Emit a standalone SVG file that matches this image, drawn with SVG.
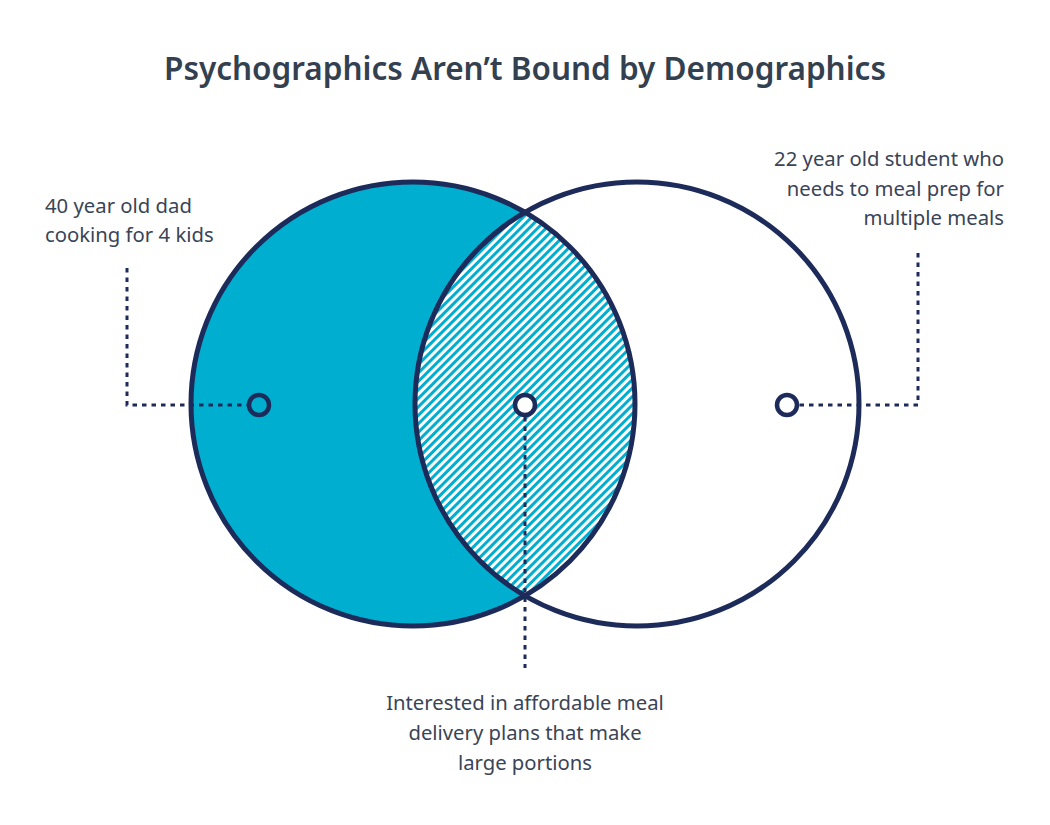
<svg xmlns="http://www.w3.org/2000/svg" width="1050" height="825" viewBox="0 0 1050 825">
<style>
.title{font-family:"Noto Sans","DejaVu Sans",sans-serif;font-weight:600;font-size:31.5px;fill:#33404f}
.lbl{font-family:"Noto Sans","DejaVu Sans",sans-serif;font-size:20.3px;fill:#3b4456}
.ring{fill:none;stroke:#1c2b5a;stroke-width:5}
.dot{stroke:#1c2b5a;stroke-width:4.5}
.dash{fill:none;stroke:#1c2b5a;stroke-width:3;stroke-dasharray:4.5 5}
</style>
<defs>
<pattern id="hatch" width="6" height="6" patternUnits="userSpaceOnUse" patternTransform="rotate(45)">
<rect width="6" height="6" fill="#ffffff"/>
<rect width="3" height="6" fill="#00aecf"/>
</pattern>
</defs>
<rect width="1050" height="825" fill="#ffffff"/>
<text class="title" x="525" y="80" text-anchor="middle">Psychographics Aren’t Bound by Demographics</text>
<g id="left-circle">
<circle cx="413" cy="404" r="222" fill="#00aecf"/>
</g>
<g id="overlap">
<path d="M525,212.3 A222,222 0 0,1 525,595.7 A222,222 0 0,1 525,212.3 Z" fill="url(#hatch)"/>
</g>
<g id="circle-outlines">
<circle class="ring" cx="413" cy="404" r="222"/>
<circle class="ring" cx="637" cy="404" r="222"/>
</g>
<g id="connectors">
<path class="dash" d="M127,268 V405 H248"/>
<path class="dash" d="M918,253 V405 H798"/>
<path class="dash" d="M525,417 V668"/>
</g>
<g id="left-node">
<circle class="dot" cx="259" cy="405" r="10" fill="none"/>
<text class="lbl" x="45" y="213">40 year old dad</text>
<text class="lbl" x="45" y="242">cooking for 4 kids</text>
</g>
<g id="middle-node">
<circle class="dot" cx="525" cy="405" r="10" fill="#ffffff"/>
<text class="lbl" x="525" y="710" text-anchor="middle">Interested in affordable meal</text>
<text class="lbl" x="525" y="740" text-anchor="middle">delivery plans that make</text>
<text class="lbl" x="525" y="770" text-anchor="middle">large portions</text>
</g>
<g id="right-node">
<circle class="dot" cx="787" cy="405" r="10" fill="#ffffff"/>
<text class="lbl" x="1004" y="166" text-anchor="end">22 year old student who</text>
<text class="lbl" x="1004" y="196" text-anchor="end">needs to meal prep for</text>
<text class="lbl" x="1004" y="225" text-anchor="end">multiple meals</text>
</g>
</svg>
